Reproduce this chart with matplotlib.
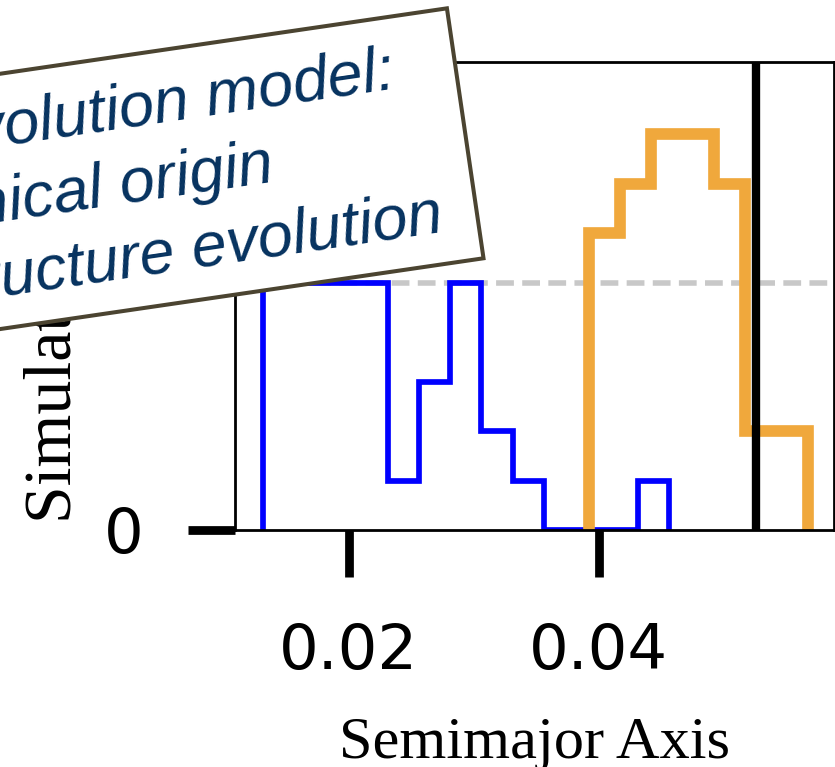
import numpy as np
import matplotlib.pyplot as plt
from matplotlib.patches import Rectangle

# histogram of semimajor axes for the two simulated populations
blue_edges = [0.0131, 0.0156, 0.0181, 0.0206, 0.0231, 0.0256, 0.0281,
              0.0306, 0.0331, 0.0356, 0.0381, 0.0406, 0.0431, 0.0456]
blue_counts = [5, 5, 5, 5, 1, 3, 5, 2, 1, 0, 0, 0, 1]
orange_edges = [0.0392, 0.0417, 0.0442, 0.0467, 0.0492, 0.0517, 0.0542, 0.0567]
orange_counts = [6, 7, 8, 8, 7, 2, 2]
observed_a = 0.0526
reference_count = 5
xticks = [0.02, 0.04]
yticks = [0, 5]

note_lines = ["Evolution model:", "Dynamical origin", "Structure evolution"]

W, H = 835, 767
fig = plt.figure(figsize=(W / 100, H / 100), dpi=100)
ax = fig.add_axes([235 / W, 1 - 530 / H, 599 / W, 468 / H])

ax.axhline(reference_count, color='#c8c8c8', lw=4, dashes=(3.2, 1.5), zorder=0.5)
ax.stairs(blue_counts, blue_edges, baseline=0, color='#0000ff', lw=4.1, zorder=2)
ax.stairs(orange_counts, orange_edges, baseline=0, color='#f0a83c', lw=8.4, zorder=2.2)
ax.axvline(observed_a, color='black', lw=6, zorder=3)

ax.set_xlim(0.0109, 0.0588)
ax.set_ylim(0, 9.46)
ax.set_xticks(xticks)
ax.set_xticklabels(['0.02', '0.04'])
ax.set_yticks(yticks)
ax.tick_params(direction='out', length=34, width=6.3, pad=32, labelsize=45)
for sp in ax.spines.values():
    sp.set_linewidth(2)

ax.set_xlabel('Semimajor Axis', family='Liberation Serif', fontsize=43.5)
ax.xaxis.set_label_coords(0.5, -0.40)
ax.set_ylabel('Simulated count', family='Liberation Serif', fontsize=49)
ax.yaxis.set_label_coords(-0.25, 0.489)

# tilted note box drawn on top in pixel coordinates
over = fig.add_axes([0, 0, 1, 1], zorder=10)
over.set_xlim(0, W)
over.set_ylim(0, H)
over.axis('off')

theta = 8.33
c, s_ = np.cos(np.radians(theta)), np.sin(np.radians(theta))


def to_px(s, t):
    # s runs along the box, t runs down across it
    return s * c + t * s_, H - (-s * s_ + t * c)


s_left, s_right, t_top, t_bot = -300, 441, 73, 325.6
over.add_patch(Rectangle(to_px(s_left, t_bot), s_right - s_left, t_bot - t_top,
                         angle=theta, facecolor='white', edgecolor='#4b4431', lw=2.9))

line_starts = [-88, -221, -121]
baselines = [144, 219, 293]
for txt, s0, t0 in zip(note_lines, line_starts, baselines):
    x, y = to_px(s0, t0)
    over.text(x, y, txt, rotation=theta, rotation_mode='anchor', ha='left', va='baseline',
              family='Liberation Sans', style='italic', fontsize=45.5, color='#06325f')

fig.savefig('out.png', dpi=100)
